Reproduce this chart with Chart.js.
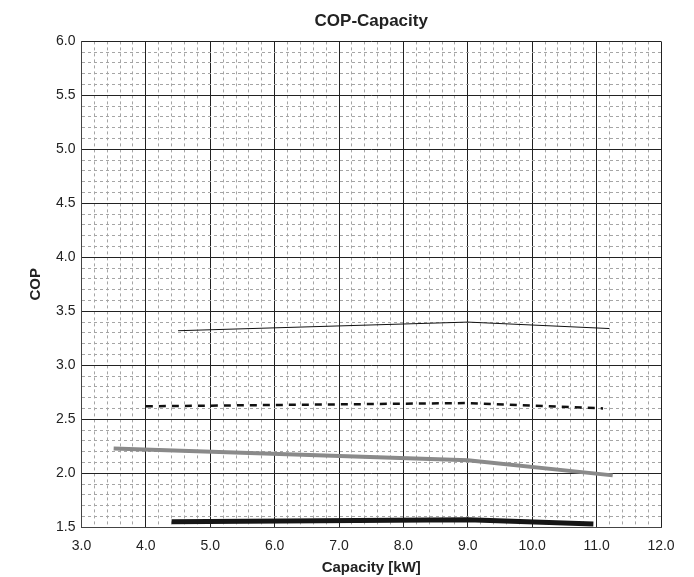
<!DOCTYPE html>
<html>
<head>
<meta charset="utf-8">
<script src="https://cdn.jsdelivr.net/npm/chart.js"></script>
<style>
  html, body { margin: 0; padding: 0; background: #fff; }
</style>
</head>
<body>
<canvas id="copChart" width="694" height="577"></canvas>

<script>
    // capacity [kW] and COP
    const capThin = [4.5, 9.0, 11.2];
    const copThin = [3.32, 3.40, 3.34];

    const capDashed = [4.0, 9.0, 11.1];
    const copDashed = [2.62, 2.65, 2.60];

    const capGray = [3.5, 9.0, 11.25];
    const copGray = [2.23, 2.12, 1.98];

    const capThick = [4.4, 9.0, 10.95];
    const copThick = [1.55, 1.57, 1.53];

    const xRange = [3.0, 12.0];
    const yRange = [1.5, 6.0];

    const toPoints = (xs, ys) => xs.map((x, i) => ({ x: x, y: ys[i] }));
    const isMajor = (v, step) => Math.abs(v / step - Math.round(v / step)) < 1e-6;

    Chart.defaults.font.family = '"Liberation Sans", Arial, sans-serif';
    Chart.defaults.color = '#222';

    const ctx = document.getElementById('copChart');
    new Chart(ctx, {
        type: 'line',
        data: {
            datasets: [
                {
                    data: toPoints(capThin, copThin),
                    borderColor: '#111',
                    borderWidth: 1,
                    pointRadius: 0
                },
                {
                    data: toPoints(capDashed, copDashed),
                    borderColor: '#111',
                    borderWidth: 2.5,
                    borderDash: [7, 6],
                    pointRadius: 0
                },
                {
                    data: toPoints(capGray, copGray),
                    borderColor: '#8a8a8a',
                    borderWidth: 4,
                    pointRadius: 0
                },
                {
                    data: toPoints(capThick, copThick),
                    borderColor: '#161616',
                    borderWidth: 5,
                    pointRadius: 0
                }
            ]
        },
        options: {
            responsive: false,
            animation: false,
            layout: { padding: { left: 27, right: 33, top: 11, bottom: 0 } },
            plugins: {
                legend: { display: false },
                tooltip: { enabled: false }
            },
            scales: {
                x: {
                    type: 'linear',
                    position: 'bottom',
                    min: xRange[0],
                    max: xRange[1],
                    ticks: {
                        stepSize: 0.2,
                        autoSkip: false,
                        maxRotation: 0,
                        minRotation: 0,
                        padding: 11,
                        font: { size: 14 },
                        callback: v => isMajor(v, 1) ? v.toFixed(1) : ''
                    },
                    grid: {
                        drawTicks: false,
                        lineWidth: 1,
                        color: c => c.tick && isMajor(c.tick.value, 1) ? '#222' : '#a5a5a5'
                    },
                    border: {
                        color: '#444',
                        dash: c => c.tick && !isMajor(c.tick.value, 1) ? [3, 3] : []
                    },
                    title: {
                        display: true,
                        text: 'Capacity [kW]',
                        font: { size: 15, weight: 'bold' },
                        padding: { top: -7, bottom: 0 }
                    }
                },
                top: {
                    type: 'linear',
                    position: 'top',
                    grid: { display: false, drawTicks: false },
                    border: { display: false },
                    ticks: { display: false },
                    title: {
                        display: true,
                        text: 'COP-Capacity',
                        font: { size: 17, weight: 'bold' },
                        padding: { top: 0, bottom: 10 }
                    }
                },
                y: {
                    type: 'linear',
                    min: yRange[0],
                    max: yRange[1],
                    ticks: {
                        stepSize: 0.1,
                        autoSkip: false,
                        padding: 6,
                        font: { size: 14 },
                        callback: v => isMajor(v, 0.5) ? v.toFixed(1) : ''
                    },
                    grid: {
                        drawTicks: false,
                        lineWidth: 1,
                        color: c => c.tick && isMajor(c.tick.value, 0.5) ? '#222' : '#a5a5a5'
                    },
                    border: {
                        color: '#444',
                        dash: c => c.tick && !isMajor(c.tick.value, 0.5) ? [3, 3] : []
                    },
                    title: {
                        display: true,
                        text: 'COP',
                        font: { size: 15, weight: 'bold' },
                        padding: { top: 0, bottom: 5 }
                    }
                }
            }
        }
    });
</script>
</body>
</html>
